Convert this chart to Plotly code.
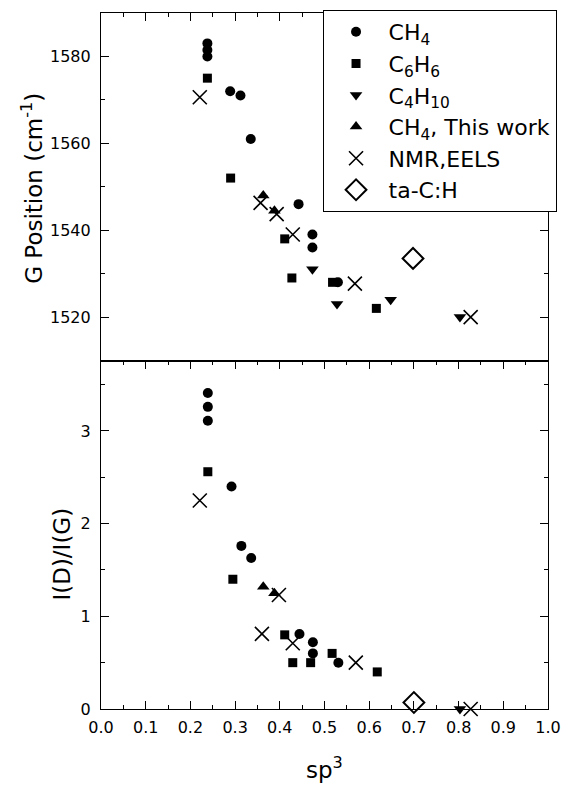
import plotly.graph_objects as go

# ---------------- data: top panel, G position (cm-1) ----------------
ch4_x_top = [0.238, 0.238, 0.238, 0.289, 0.312, 0.335, 0.442, 0.473, 0.473, 0.530]
ch4_g = [1583.0, 1581.5, 1580.0, 1572.0, 1571.0, 1561.0, 1546.0, 1539.0, 1536.0, 1528.0]
c6h6_x_top = [0.238, 0.290, 0.411, 0.427, 0.518, 0.616]
c6h6_g = [1575.0, 1552.0, 1538.0, 1529.0, 1528.0, 1522.0]
c4h10_x_top = [0.473, 0.528, 0.648, 0.803]
c4h10_g = [1531.0, 1523.0, 1524.0, 1520.0]
ch4tw_x_top = [0.363, 0.388]
ch4tw_g = [1548.0, 1544.5]
nmr_x_top = [0.221, 0.357, 0.393, 0.429, 0.568, 0.827]
nmr_g = [1570.6, 1546.3, 1543.7, 1539.0, 1527.7, 1520.0]
tac_x_top = [0.698]
tac_g = [1533.5]

# ---------------- data: bottom panel, I(D)/I(G) ----------------
ch4_x_bot = [0.239, 0.239, 0.239, 0.292, 0.314, 0.336, 0.444, 0.474, 0.474, 0.531]
ch4_r = [3.41, 3.26, 3.11, 2.40, 1.76, 1.63, 0.81, 0.72, 0.60, 0.50]
c6h6_x_bot = [0.239, 0.295, 0.411, 0.429, 0.469, 0.517, 0.618]
c6h6_r = [2.56, 1.40, 0.80, 0.50, 0.50, 0.60, 0.40]
c4h10_x_bot = [0.803]
c4h10_r = [0.0]
ch4tw_x_bot = [0.363, 0.388]
ch4tw_r = [1.32, 1.25]
nmr_x_bot = [0.221, 0.398, 0.360, 0.429, 0.570, 0.827]
nmr_r = [2.25, 1.23, 0.81, 0.71, 0.50, 0.0]
tac_x_bot = [0.700]
tac_r = [0.07]

names = ["CH<sub>4</sub>", "C<sub>6</sub>H<sub>6</sub>", "C<sub>4</sub>H<sub>10</sub>",
         "CH<sub>4</sub>, This work", "NMR,EELS", "ta-C:H"]
series = [
    (ch4_x_top, ch4_g, ch4_x_bot, ch4_r),
    (c6h6_x_top, c6h6_g, c6h6_x_bot, c6h6_r),
    (c4h10_x_top, c4h10_g, c4h10_x_bot, c4h10_r),
    (ch4tw_x_top, ch4tw_g, ch4tw_x_bot, ch4tw_r),
    (nmr_x_top, nmr_g, nmr_x_bot, nmr_r),
    (tac_x_top, tac_g, tac_x_bot, tac_r),
]
markers = [
    dict(symbol="circle", size=10, color="black", line=dict(width=0)),
    dict(symbol="square", size=9, color="black", line=dict(width=0)),
    dict(symbol="triangle-down", size=11, color="black", line=dict(width=0)),
    dict(symbol="triangle-up", size=11, color="black", line=dict(width=0)),
    dict(symbol="x-thin-open", size=14, color="black", line=dict(width=1.6, color="black")),
    dict(symbol="diamond-open", size=16, color="black", line=dict(width=2, color="black")),
]

fig = go.Figure()
for i, (name, (xt, yt, xb, yb), mk) in enumerate(zip(names, series, markers)):
    grp = f"g{i}"
    fig.add_trace(go.Scatter(x=xt, y=yt, mode="markers", name=name, marker=mk,
                             xaxis="x2", yaxis="y2", legendgroup=grp, showlegend=True,
                             cliponaxis=False))
    fig.add_trace(go.Scatter(x=xb, y=yb, mode="markers", name=name, marker=mk,
                             xaxis="x", yaxis="y", legendgroup=grp, showlegend=False,
                             cliponaxis=False))

FONT = "DejaVu Sans"
split = 0.5007
common_axis = dict(showline=True, linecolor="black", linewidth=1.2, ticks="inside",
                   tickcolor="black", tickwidth=1.2, ticklen=8, showgrid=False,
                   zeroline=False, tickfont=dict(family=FONT, size=16, color="black"))

fig.update_layout(
    width=571, height=785,
    margin=dict(l=101, r=14, t=10, b=76),
    paper_bgcolor="white", plot_bgcolor="white",
    font=dict(family=FONT, color="black"),
    xaxis=dict(common_axis, domain=[0, 1], anchor="y", range=[0, 1], dtick=0.1, tick0=0,
               tickformat=".1f", mirror="ticks", side="bottom", ticklabelstandoff=4,
               minor=dict(dtick=0.05, ticks="inside", ticklen=4, tickcolor="black", tickwidth=1.2)),
    yaxis=dict(common_axis, domain=[0, split], anchor="x", range=[0, 3.76], dtick=1, tick0=0,
               mirror="ticks", ticklabelstandoff=6,
               minor=dict(dtick=0.5, ticks="inside", ticklen=4, tickcolor="black", tickwidth=1.2)),
    xaxis2=dict(common_axis, domain=[0, 1], anchor="y2", range=[0, 1], dtick=0.1, tick0=0,
                side="top", mirror=True, showticklabels=False,
                minor=dict(dtick=0.05, ticks="inside", ticklen=4, tickcolor="black", tickwidth=1.2)),
    yaxis2=dict(common_axis, domain=[split, 1], anchor="x2", range=[1510, 1590], dtick=20, tick0=0,
                mirror="ticks", ticklabelstandoff=6,
                minor=dict(dtick=10, ticks="inside", ticklen=4, tickcolor="black", tickwidth=1.2)),
    legend=dict(x=0.4956, xanchor="left", y=1.0043, yanchor="top",
                bordercolor="black", borderwidth=1, bgcolor="white",
                font=dict(family=FONT, size=22, color="black"),
                itemwidth=55, tracegroupgap=0, traceorder="grouped"),
    showlegend=True,
)

ann_font = dict(family=FONT, size=23, color="black")
fig.add_annotation(text="G Position (cm<sup>-1</sup>)", xref="paper", yref="paper",
                   x=-0.1535, y=0.748, textangle=-90, showarrow=False,
                   xanchor="center", yanchor="middle", font=ann_font)
fig.add_annotation(text="I(D)/I(G)", xref="paper", yref="paper",
                   x=-0.0877, y=0.223, textangle=-90, showarrow=False,
                   xanchor="center", yanchor="middle", font=ann_font)
fig.add_annotation(text="sp<sup>3</sup>", xref="paper", yref="paper",
                   x=0.5, y=-0.0844, showarrow=False,
                   xanchor="center", yanchor="middle", font=ann_font)

fig.write_html("out.html")
